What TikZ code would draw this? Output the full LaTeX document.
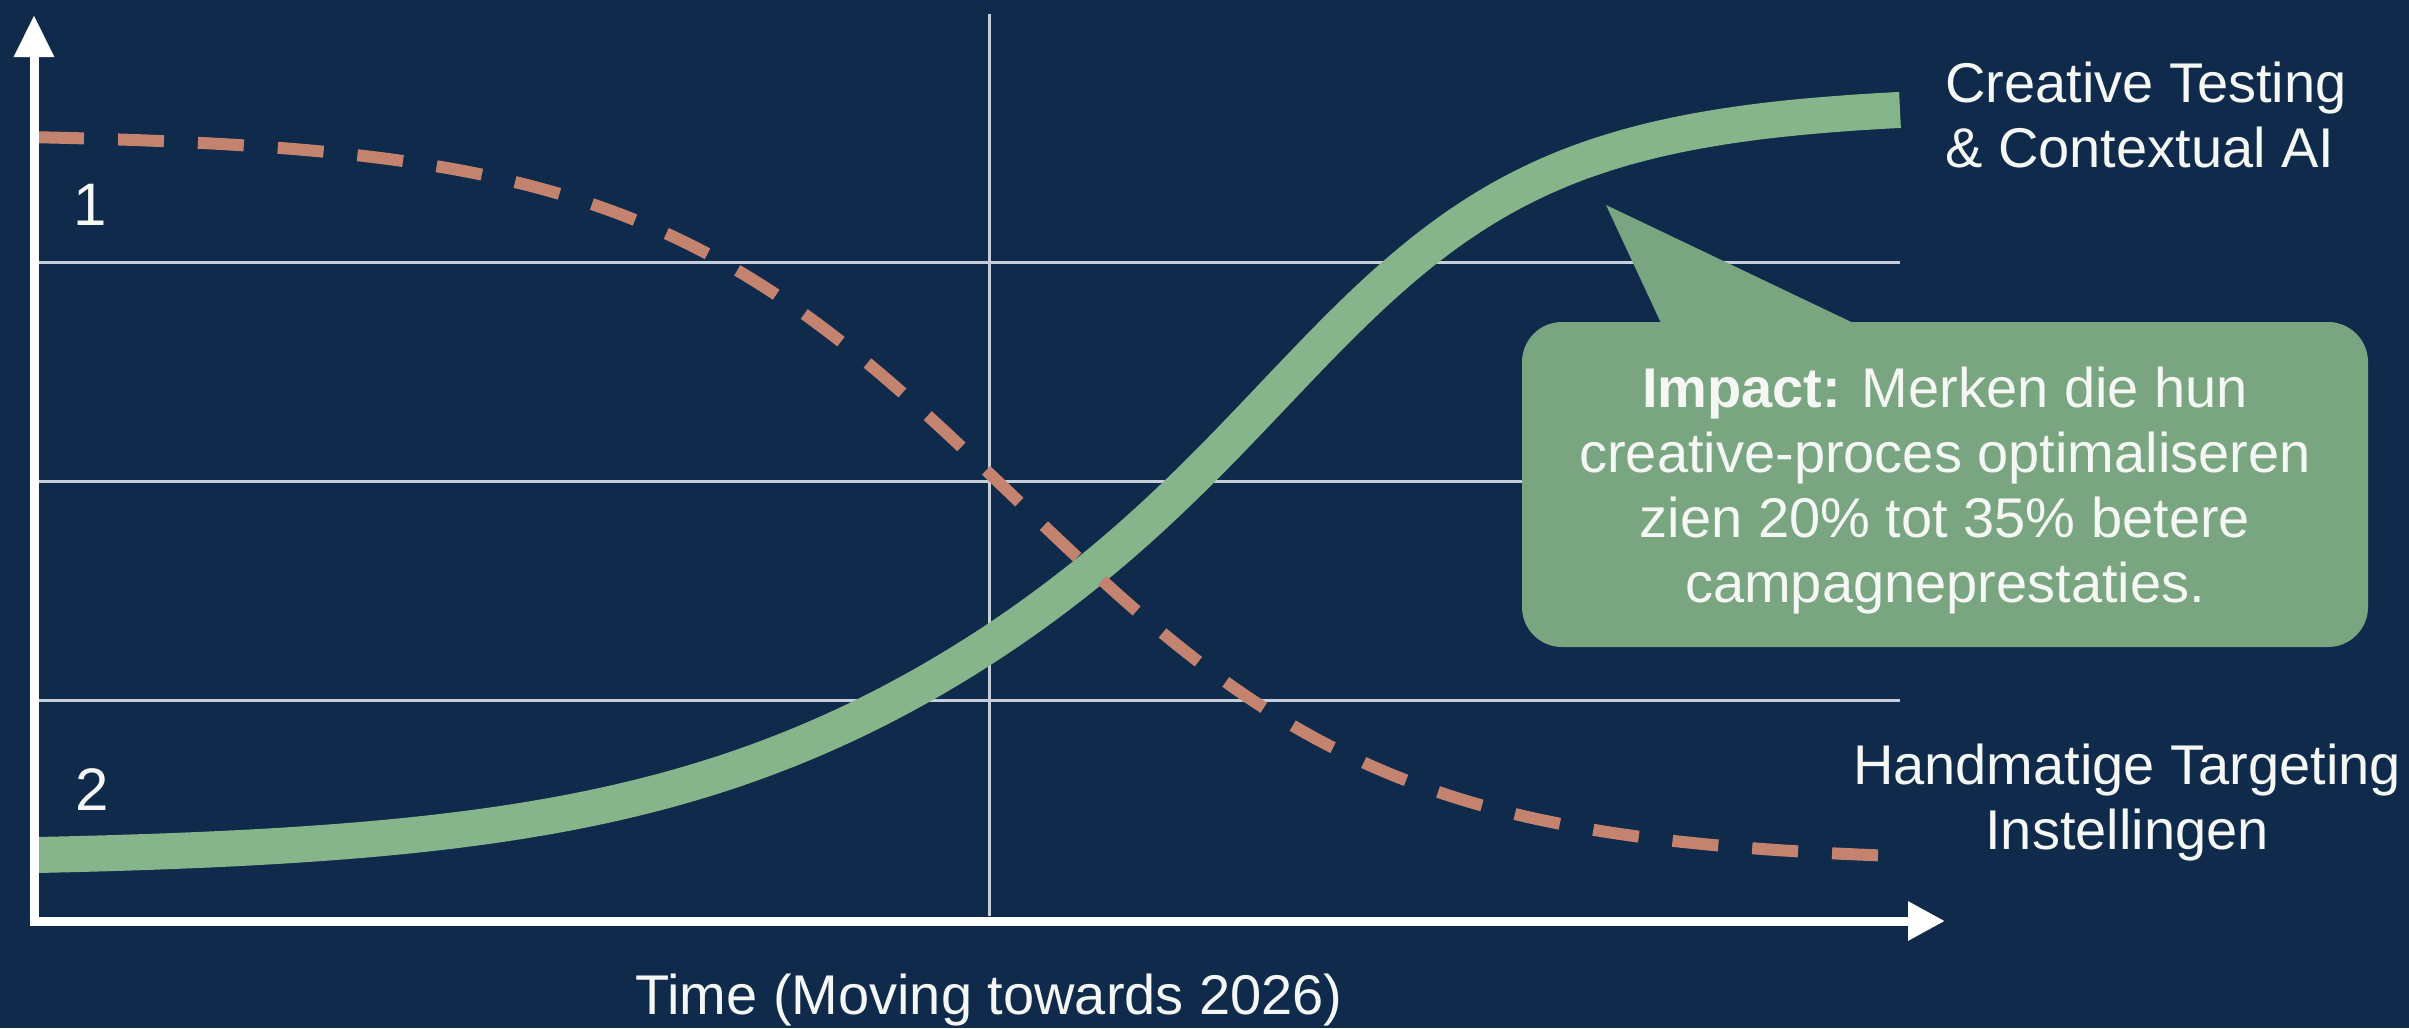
\documentclass[tikz,border=0pt]{standalone}
\usepackage{fontspec}
\setmainfont{Liberation Sans}
\usetikzlibrary{arrows.meta}
\definecolor{bgnavy}{HTML}{0F2A4B}
\definecolor{gridc}{HTML}{C5CEDA}
\definecolor{curvegreen}{HTML}{86B48B}
\definecolor{boxgreen}{HTML}{79A580}
\definecolor{dashsalmon}{HTML}{C4836F}
\definecolor{txtc}{HTML}{F4F7F4}
\begin{document}
\begin{tikzpicture}[x=1pt,y=-1pt,
  gridline/.style={draw=gridc, line width=3pt},
  axisline/.style={draw=white, line width=9pt},
  labeltext/.style={text=txtc, font=\fontsize{56}{65}\selectfont, inner sep=0pt},
  numtext/.style={text=txtc, font=\fontsize{60}{70}\selectfont, inner sep=0pt},
  calloutbox/.style={fill=boxgreen, rounded corners=40pt, minimum width=846pt, minimum height=325pt, inner sep=0pt},
  greencurve/.style={draw=curvegreen, line width=36pt, line cap=butt},
  dashcurve/.style={draw=dashsalmon, line width=12pt, dash pattern=on 46pt off 34pt}
]
\useasboundingbox (0,0) rectangle (2409,1028);
\fill[bgnavy] (0,0) rectangle (2409,1028);

% coordinates
\coordinate (O) at (34,926);
\coordinate (ytip) at (34,15);
\coordinate (xO) at (29.5,921);
\coordinate (xtip) at (1945,921);
\coordinate (h1l) at (38,262);  \coordinate (h1r) at (1900,262);
\coordinate (h2l) at (38,481);  \coordinate (h2r) at (1900,481);
\coordinate (h3l) at (38,700);  \coordinate (h3r) at (1900,700);
\coordinate (vt) at (989,14);   \coordinate (vb) at (989,916);

% grid
\draw[gridline] (h1l) -- (h1r);
\draw[gridline] (h2l) -- (h2r);
\draw[gridline] (h3l) -- (h3r);
\draw[gridline] (vt) -- (vb);

% curves
\draw[greencurve] plot[domain=38:1900, samples=240]
  (\x, {860 - 758/(1+exp(-(\x-1190)/(193 - 37*tanh((\x-1190)/250))))});
\draw[dashcurve] plot[domain=38:1900, samples=220]
  (\x, {133 + 730/(1+exp(-(\x-1015)/190))});

% axes
\draw[axisline, -{Triangle[length=42pt, width=38pt]}] (O) -- (ytip);
\draw[axisline, -{Triangle[length=37pt, width=37pt]}] (xO) -- (xtip);

% callout
\node[calloutbox] (impactbox) at (1945,484.5) {};
\coordinate (ptip) at (1606,205);
\fill[boxgreen] (ptip) -- ([xshift=-279pt,yshift=-12pt]impactbox.north)
  -- ([xshift=-69pt,yshift=-12pt]impactbox.north) -- cycle;
\node[labeltext, align=center] (impacttext) at (1945,491)
  {\textbf{Impact:} Merken die hun\\creative-proces optimaliseren\\zien 20\% tot 35\% betere\\campagneprestaties.};

% labels
\node[numtext, anchor=base west] (n1) at (73,225) {1};
\node[numtext, anchor=base west] (n2) at (75,810) {2};
\node[labeltext, anchor=base west, align=left] (toplabel) at (1945,167)
  {Creative Testing\\\& Contextual AI};
\node[labeltext, anchor=base, align=center] (botlabel) at (2127,849)
  {Handmatige Targeting\\Instellingen};
\node[labeltext, anchor=base] (timelabel) at (989,1014) {Time (Moving towards 2026)};
\end{tikzpicture}
\end{document}
